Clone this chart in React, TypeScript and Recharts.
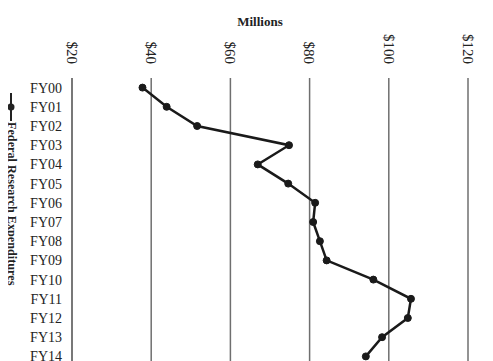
import React from 'react';
import {
    CartesianGrid,
    Legend,
    Line,
    LineChart,
    XAxis,
    YAxis,
} from 'recharts';

// fiscal years, top to bottom
const years = [
    'FY00', 'FY01', 'FY02', 'FY03', 'FY04', 'FY05', 'FY06', 'FY07',
    'FY08', 'FY09', 'FY10', 'FY11', 'FY12', 'FY13', 'FY14',
];

// federal research expenditures, $ millions
const expenditures = [
    37.8, 43.9, 51.6, 74.8, 66.9, 74.6, 81.4, 80.9,
    82.6, 84.3, 96.1, 105.6, 104.8, 98.3, 94.2,
];

const millionTicks = [20, 40, 60, 80, 100, 120];

const seriesName = 'Federal Research Expenditures';

const rows = years.map((year, i) => ({ year, value: expenditures[i] }));

const FONT = '"Liberation Serif", "Times New Roman", serif';

function DollarTick(props: any) {
    const { x, y, payload } = props;
    return (
        <text
            x={0}
            y={0}
            dy="0.35em"
            transform={`translate(${x},${y - 14}) rotate(90)`}
            textAnchor="end"
            fontFamily={FONT}
            fontSize={15}
            fill="#222"
        >
            ${payload.value}
        </text>
    );
}

function YearTick(props: any) {
    const { x, y, payload } = props;
    return (
        <text
            x={x}
            y={y}
            dy="0.36em"
            textAnchor="end"
            fontFamily={FONT}
            fontSize={14}
            fill="#222"
        >
            {payload.value}
        </text>
    );
}

function SideLegend() {
    return (
        <svg width={20} height={210} style={{ display: 'block', overflow: 'visible' }}>
            <line x1={3} y1={0} x2={3} y2={28} stroke="#222" strokeWidth={2} />
            <circle cx={3} cy={14} r={3.5} fill="#222" />
            <text
                x={0}
                y={0}
                dy="0.35em"
                transform="translate(4,29) rotate(90)"
                fontFamily={FONT}
                fontWeight="bold"
                fontSize={12.2}
                fill="#222"
            >
                {seriesName}
            </text>
        </svg>
    );
}

export default function App() {
    return (
        <div style={{ width: 485, height: 353, overflow: 'hidden' }}>
            <LineChart
                width={485}
                height={360}
                data={rows}
                layout="vertical"
                margin={{ top: 0, right: 25, bottom: 2, left: -6 }}
            >
                <CartesianGrid
                    horizontal={false}
                    stroke="#6f6f6f"
                    strokeWidth={1.5}
                />
                <XAxis
                    type="number"
                    orientation="top"
                    domain={[20, 120]}
                    ticks={millionTicks}
                    height={70}
                    axisLine={false}
                    tickLine={false}
                    tickSize={0}
                    tickMargin={0}
                    tick={<DollarTick />}
                    label={{
                        value: 'Millions',
                        position: 'insideTop',
                        offset: 9,
                        dx: -10,
                        fontFamily: FONT,
                        fontWeight: 'bold',
                        fontSize: 13,
                        fill: '#222',
                    }}
                />
                <YAxis
                    type="category"
                    dataKey="year"
                    width={50}
                    padding={{ top: 9.6, bottom: 9.6 }}
                    axisLine={{ stroke: '#6f6f6f', strokeWidth: 1.5 }}
                    tickLine={false}
                    tickSize={0}
                    tickMargin={10}
                    tick={<YearTick />}
                    interval={0}
                />
                <Legend
                    layout="vertical"
                    align="left"
                    verticalAlign="top"
                    content={<SideLegend />}
                    wrapperStyle={{ left: 0, top: 85, width: 20, height: 210 }}
                />
                <Line
                    type="linear"
                    dataKey="value"
                    name={seriesName}
                    stroke="#1a1a1a"
                    strokeWidth={2.5}
                    dot={{ r: 3.5, fill: '#1a1a1a', stroke: '#1a1a1a', strokeWidth: 1 }}
                    activeDot={false}
                    isAnimationActive={false}
                />
            </LineChart>
        </div>
    );
}
